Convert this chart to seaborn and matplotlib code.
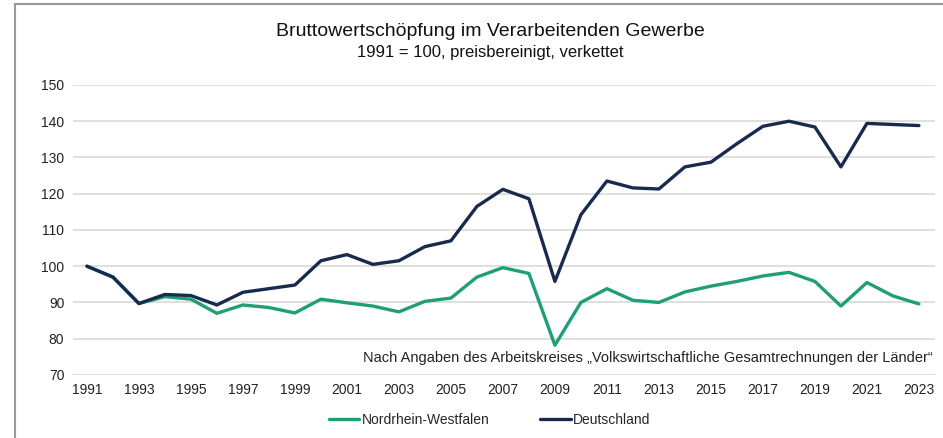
import matplotlib
matplotlib.use("Agg")
import matplotlib.pyplot as plt
from matplotlib.patches import Rectangle
import pandas as pd
import seaborn as sns

years = list(range(1991, 2024))
deutschland = [100.0, 97.0, 89.7, 92.2, 91.9, 89.3, 92.8, 93.8, 94.8, 101.5,
               103.2, 100.5, 101.5, 105.4, 107.0, 116.5, 121.2, 118.6, 95.8, 114.2,
               123.5, 121.6, 121.3, 127.4, 128.7, 133.8, 138.6, 140.0, 138.4, 127.4,
               139.4, 139.1, 138.8]
nrw = [100.0, 97.0, 89.7, 91.6, 90.9, 87.0, 89.3, 88.6, 87.1, 90.9,
       89.9, 89.0, 87.4, 90.3, 91.2, 97.0, 99.6, 98.0, 78.2, 90.0,
       93.8, 90.6, 90.0, 92.9, 94.5, 95.8, 97.3, 98.3, 95.8, 89.0,
       95.5, 91.8, 89.6]
series_names = ["Nordrhein-Westfalen", "Deutschland"]
colors = ["#1f9e78", "#182a4e"]
x_ticks = list(range(1991, 2024, 2))
y_ticks = list(range(70, 151, 10))

df = pd.DataFrame({"Jahr": years, series_names[0]: nrw, series_names[1]: deutschland})
long = df.melt(id_vars="Jahr", var_name="Region", value_name="Index")

sns.set_theme(style="white")
plt.rcParams['font.family'] = ['Liberation Sans', 'DejaVu Sans']

fig = plt.figure(figsize=(9.43, 4.38), dpi=100)
ax = fig.add_axes([0.077, 0.144, 0.914, 0.662])

sns.lineplot(data=long, x="Jahr", y="Index", hue="Region", hue_order=series_names,
             palette=colors, linewidth=2.4, ax=ax, legend=True)

ax.set_xlim(1990.45, 2023.6)
ax.set_ylim(70, 150)
ax.set_xticks(x_ticks)
ax.set_yticks(y_ticks)
ax.tick_params(axis="both", length=0, labelsize=10, colors="#222222", pad=6)
ax.yaxis.grid(True, color="#d9d9d9", linewidth=1.2)
ax.xaxis.grid(False)
for s in ax.spines.values():
    s.set_visible(False)
ax.set_xlabel("")
ax.set_ylabel("")

ax.text(0.998, 0.035, "Nach Angaben des Arbeitskreises \u201eVolkswirtschaftliche Gesamtrechnungen der L\u00e4nder\u201c",
        transform=ax.transAxes, ha="right", va="bottom", fontsize=10.5, color="#222222")

fig.text(0.52, 0.927, "Bruttowertsch\u00f6pfung im Verarbeitenden Gewerbe",
         ha="center", va="center", fontsize=14, color="#111111")
fig.text(0.52, 0.879, "1991 = 100, preisbereinigt, verkettet",
         ha="center", va="center", fontsize=12, color="#111111")

handles, labels = ax.get_legend_handles_labels()
ax.legend(handles, labels, loc="center", bbox_to_anchor=(0.484, -0.155),
          ncol=2, frameon=False, fontsize=10, handlelength=2.2,
          handletextpad=0.2, columnspacing=3.6)

# outer frame of the original chart box
fig.patches.append(Rectangle((0.016, -0.05), 1.2, 1.04, transform=fig.transFigure,
                             fill=False, edgecolor="#9a9a9a", linewidth=1.5))

fig.savefig("out.png", dpi=100)
plt.close(fig)
